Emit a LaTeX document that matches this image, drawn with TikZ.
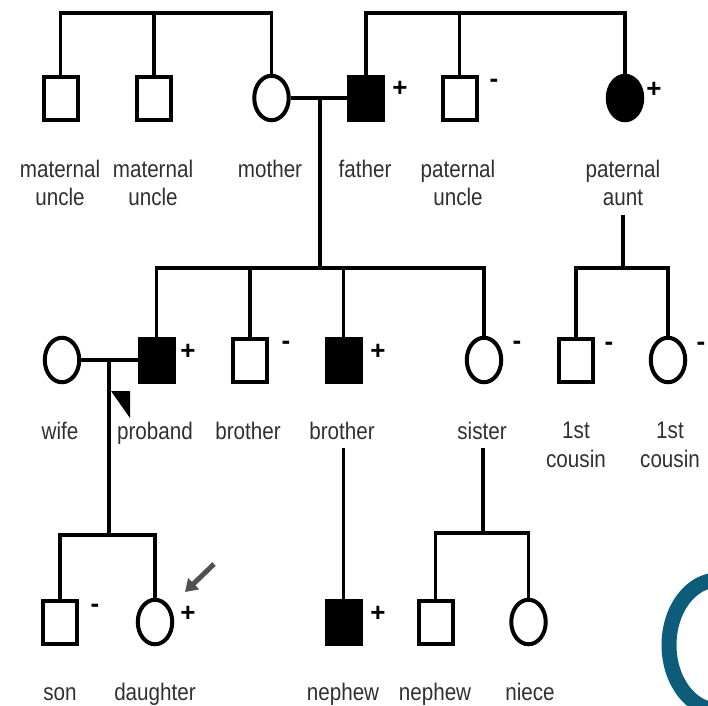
\documentclass[tikz,border=0pt]{standalone}
\usepackage{fontspec}
\setmainfont{Liberation Sans}[FakeStretch=0.86]
\newfontfamily\signfont{Liberation Sans}
\usetikzlibrary{shapes.geometric,arrows.meta}
\definecolor{ink}{HTML}{303030}
\definecolor{ringblue}{RGB}{12,92,122}
\definecolor{pointer}{HTML}{505050}

\begin{document}
\begin{tikzpicture}[x=1pt,y=-1pt,
  male/.style={draw,line width=4pt,rectangle,minimum width=34pt,minimum height=43pt,inner sep=0pt},
  female/.style={draw,line width=4pt,ellipse,minimum width=34.5pt,minimum height=44.5pt,inner sep=0pt},
  affected/.style={fill=black},
  lbl/.style={anchor=base,inner sep=0pt,text=ink,font=\fontsize{24}{28}\selectfont},
  signmark/.style={anchor=base,inner sep=0pt,font=\signfont\bfseries\fontsize{26}{26}\selectfont},
  link/.style={line width=3.8pt}
]
\useasboundingbox (0,0) rectangle (708,705);

% decorative ring cut by the right edge
\begin{scope}
  \clip (0,0) rectangle (708,705);
  \draw[ringblue,line width=15pt] (718,645) ellipse [x radius=49, y radius=65];
\end{scope}

% ---- generation I
\node[male]            (mu1) at (60.5,98)  {};
\node[male]            (mu2) at (154,98)   {};
\node[female]          (mo)  at (271.5,98) {};
\node[male,affected]   (fa)  at (366,98)   {};
\node[male]            (pu)  at (459.5,98) {};
\node[female,affected] (pa)  at (625,98)   {};

\node[signmark] (sfa) at (400,96)  {+};
\node[signmark] (spu) at (494,87)  {-};
\node[signmark] (spa) at (654,97)  {+};

\node[lbl] (lmu1a) at (60,177)  {maternal};
\node[lbl] (lmu1b) at (60,205)  {uncle};
\node[lbl] (lmu2a) at (153,177) {maternal};
\node[lbl] (lmu2b) at (153,205) {uncle};
\node[lbl] (lmo)   at (270,177) {mother};
\node[lbl] (lfa)   at (365,177) {father};
\node[lbl] (lpua)  at (458,177) {paternal};
\node[lbl] (lpub)  at (458,205) {uncle};
\node[lbl] (lpaa)  at (623,177) {paternal};
\node[lbl] (lpab)  at (623,205) {aunt};

% ---- generation II
\node[female]          (wi) at (62,360)    {};
\node[male,affected]   (pb) at (156.5,360) {};
\node[male]            (b1) at (250,360)   {};
\node[male,affected]   (b2) at (343.5,360) {};
\node[female]          (si) at (484,360)   {};
\node[male]            (c1) at (576,360)   {};
\node[female]          (c2) at (668,360)   {};

\node[signmark] (spb) at (188,359) {+};
\node[signmark] (sb1) at (286,349) {-};
\node[signmark] (sb2) at (378,359) {+};
\node[signmark] (ssi) at (517,349) {-};
\node[signmark] (sc1) at (609,350) {-};
\node[signmark] (sc2) at (701,350) {-};

\node[lbl] (lwi)  at (60,439)  {wife};
\node[lbl] (lpb)  at (155,439) {proband};
\node[lbl] (lb1)  at (248,439) {brother};
\node[lbl] (lb2)  at (342,439) {brother};
\node[lbl] (lsi)  at (482,439) {sister};
\node[lbl] (lc1a) at (576,438) {1st};
\node[lbl] (lc1b) at (576,467) {cousin};
\node[lbl] (lc2a) at (670,438) {1st};
\node[lbl] (lc2b) at (670,467) {cousin};

% proband marker
\fill (111,391) -- (130,391) -- (130,418) -- cycle;

% ---- generation III
\node[male]          (so) at (60,622)    {};
\node[female]        (da) at (155,622)   {};
\node[male,affected] (n1) at (343.5,622) {};
\node[male]          (n2) at (435.5,622) {};
\node[female]        (ni) at (528.5,622) {};

\node[signmark] (sso) at (95,612)  {-};
\node[signmark] (sda) at (188,621) {+};
\node[signmark] (sn1) at (378,621) {+};

\node[lbl] (lso) at (60,700)  {son};
\node[lbl] (lda) at (155,700) {daughter};
\node[lbl] (ln1) at (343,700) {nephew};
\node[lbl] (ln2) at (435,700) {nephew};
\node[lbl] (lni) at (530,700) {niece};

% ---- line levels
\coordinate (top)  at (0,13);
\coordinate (sib1) at (0,268);
\coordinate (sib3) at (0,535);
\coordinate (sib4) at (0,533);
\coordinate (d1)   at (320,98);
\coordinate (d2)   at (109,360);
\coordinate (ad)   at (623,215);
\coordinate (bd)   at (343.5,448);
\coordinate (sd)   at (483,448);

% sibships of generation I
\draw[link] (mu1.north) -- (mu1.north |- top) -| (mo.north);
\draw[link] (mu2.north) -- (mu2.north |- top);
\draw[link] (fa.north) -- (fa.north |- top) -| (pa.north);
\draw[link] (pu.north) -- (pu.north |- top);

% parents and their children
\draw[link] (mo.east) -- (fa.west);
\draw[link] (d1) -- (d1 |- sib1);
\draw[link] (pb.north) -- (pb.north |- sib1) -| (si.north);
\draw[link] (b1.north) -- (b1.north |- sib1);
\draw[link] (b2.north) -- (b2.north |- sib1);

% paternal aunt's children
\draw[link] (ad) -- (ad |- sib1);
\draw[link] (c1.north) -- (c1.north |- sib1) -| (c2.north);

% proband's family
\draw[link] (wi.east) -- (pb.west);
\draw[link] (d2) -- (d2 |- sib3);
\draw[link] (so.north) -- (so.north |- sib3) -| (da.north);

% brother's son
\draw[link] (bd) -- (n1.north);

% sister's children
\draw[link] (sd) -- (sd |- sib4);
\draw[link] (n2.north) -- (n2.north |- sib4) -| (ni.north);

% pointer to the daughter
\coordinate (ptail) at (214,564);
\coordinate (phead) at (185,592);
\draw[pointer,line width=5pt,-{Triangle[length=12pt,width=15pt]}] (ptail) -- (phead);

\end{tikzpicture}
\end{document}
